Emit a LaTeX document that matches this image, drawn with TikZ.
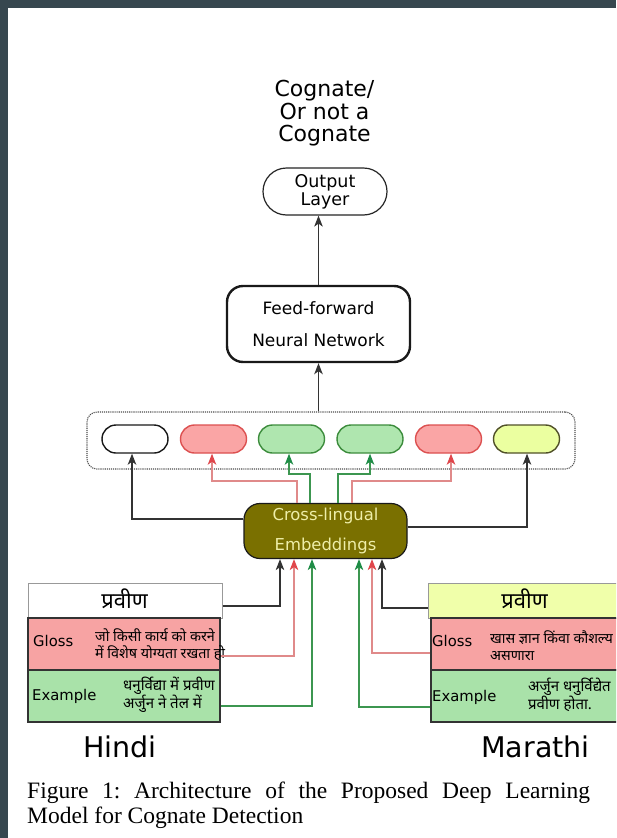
\documentclass[tikz,border=0pt]{standalone}
\usepackage{fontspec}
\setmainfont{Liberation Serif}
\setsansfont{DejaVu Sans}
\newfontfamily\devafont[Script=Devanagari]{Noto Sans}
\usetikzlibrary{arrows.meta,shapes.misc,calc}

\definecolor{framegray}{HTML}{37474F}
\definecolor{glossfill}{HTML}{F7A3A3}
\definecolor{exfill}{HTML}{A9E2A9}
\definecolor{mrtitle}{HTML}{F0FFAA}
\definecolor{cleolive}{HTML}{7A7000}
\definecolor{cletext}{HTML}{EEEEA8}
\definecolor{redline}{HTML}{E08A8A}
\definecolor{redtip}{HTML}{E0464B}
\definecolor{greenline}{HTML}{3C9650}
\definecolor{greentip}{HTML}{1E8C46}
\definecolor{redpill}{HTML}{FAA5A5}
\definecolor{redpilledge}{HTML}{DC5050}
\definecolor{greenpill}{HTML}{AFE6AF}
\definecolor{greenpilledge}{HTML}{3C8C3C}
\definecolor{yellowpill}{HTML}{EBFFA0}
\definecolor{yellowpilledge}{HTML}{505028}

\tikzset{
  pill/.style={rounded rectangle, minimum width=66pt, minimum height=28pt,
    inner sep=0pt, line width=1.4pt},
  tipk/.style={-{Stealth[length=11pt,width=8.5pt,inset=3pt]}},
  blackconn/.style={tipk, draw=black!80, line width=1.2pt},
  redconn/.style={-{Stealth[length=11pt,width=8.5pt,inset=3pt,color=redtip]},
    draw=redline, line width=1.2pt},
  greenconn/.style={-{Stealth[length=11pt,width=8.5pt,inset=3pt,color=greentip]},
    draw=greenline, line width=1.2pt},
  wordbox/.style={rectangle, inner sep=0pt, minimum width=194pt, minimum height=35pt,
    draw=black!40, line width=1pt},
  infobox/.style={rectangle, inner sep=0pt, minimum width=192pt, minimum height=52pt,
    draw=black!80, line width=1.6pt},
  fieldname/.style={anchor=west, inner sep=0pt, font=\sffamily\fontsize{14.8}{16}\selectfont},
  devtext/.style={anchor=west, inner sep=0pt, align=left,
    font=\devafont\fontsize{15}{17.5}\selectfont},
  glosstext/.style={devtext, font=\devafont\fontsize{14.3}{17}\selectfont},
  langname/.style={anchor=base, inner sep=0pt, font=\sffamily\fontsize{28.5}{30}\selectfont},
}

\begin{document}
\begin{tikzpicture}[x=1pt,y=-1pt]
\useasboundingbox (0,0) rectangle (616,838);
\clip (0,0) rectangle (616,838);
\fill[white] (0,0) rectangle (616,838);
\fill[framegray] (0,0) rectangle (7.5,838);
\fill[framegray] (0,0) rectangle (616,7.5);

% ---- output side ----
\node[inner sep=0pt, align=center, font=\sffamily\fontsize{22}{22.5}\selectfont]
  (verdict) at (324.5,113.5) {Cognate/\\Or not a\\Cognate};
\node[rounded rectangle, draw=black!85, line width=1.2pt, minimum width=124pt,
  minimum height=47pt, inner sep=0pt, align=center,
  font=\sffamily\fontsize{17.5}{18}\selectfont] (outlayer) at (325,191.5) {Output\\Layer};
\node[rectangle, rounded corners=16pt, draw=black!90, line width=2.4pt,
  minimum width=183pt, minimum height=76pt, inner sep=0pt, align=center,
  font=\sffamily\fontsize{17}{32}\selectfont] (ffnn) at (318.5,324) {Feed-forward\\Neural Network};

% ---- concatenated embedding vector ----
\node[rectangle, rounded corners=10pt, densely dotted, draw=black!70, line width=1.1pt,
  minimum width=488pt, minimum height=57pt, inner sep=0pt] (vec) at (331,440.5) {};
\node[pill, draw=black!90, fill=white] (p1) at (135,439) {};
\node[pill, draw=redpilledge, fill=redpill] (p2) at (213.5,439) {};
\node[pill, draw=greenpilledge, fill=greenpill] (p3) at (291.5,439) {};
\node[pill, draw=greenpilledge, fill=greenpill] (p4) at (370,439) {};
\node[pill, draw=redpilledge, fill=redpill] (p5) at (448.5,439) {};
\node[pill, draw=yellowpilledge, fill=yellowpill] (p6) at (526.5,439) {};

% ---- cross-lingual embeddings ----
\node[rectangle, rounded corners=16pt, draw=black!90, fill=cleolive, line width=1.2pt,
  minimum width=163pt, minimum height=55pt, inner sep=0pt, align=center,
  text=cletext, font=\sffamily\fontsize{16.4}{30}\selectfont] (cle) at (325.5,531)
  {Cross-lingual\\Embeddings};

% ---- Hindi entry ----
\node[wordbox, fill=white] (hword) at (125,600.5) {};
\node[inner sep=0pt, font=\devafont\fontsize{22}{24}\selectfont] at (124.5,599) {प्रवीण};
\node[infobox, fill=glossfill] (hgloss) at (124,644) {};
\node[fieldname] at (33,641) {Gloss};
\node[glosstext] at (95,645) {जो किसी कार्य को करने\\में विशेष योग्यता रखता हो};
\node[infobox, fill=exfill] (hex) at (124,696) {};
\node[fieldname] at (32,696) {Example};
\node[devtext] at (123,695) {धनुर्विद्या में प्रवीण\\अर्जुन ने तेल में};
\node[langname] (hlabel) at (120,757) {Hindi};

% ---- Marathi entry ----
\node[wordbox, fill=mrtitle] (mword) at (525,601) {};
\node[inner sep=0pt, font=\devafont\fontsize{22}{24}\selectfont] at (524.5,599) {प्रवीण};
\node[infobox, fill=glossfill] (mgloss) at (527,644) {};
\node[fieldname] at (432,641) {Gloss};
\node[glosstext] at (490,646) {खास ज्ञान किंवा कौशल्य\\असणारा};
\node[infobox, fill=exfill] (mex) at (527,696) {};
\node[fieldname] at (432,697) {Example};
\node[devtext] at (528,695) {अर्जुन धनुर्विद्येत\\प्रवीण होता.};
\node[langname] (mlabel) at (535.5,757) {Marathi};

% ---- caption ----
\node[anchor=north west, inner sep=0pt, text width=563pt, align=justify,
  font=\rmfamily\fontsize{23.5}{25}\selectfont\frenchspacing] (caption) at (27,782)
  {Figure 1: Architecture of the Proposed Deep Learning\linebreak Model for Cognate Detection};

% ---- connectors: word entries into the embeddings ----
\draw[blackconn] ($(hword.east)+(0,5.5)$) -| ($(cle.south)+(-45.5,0)$);
\draw[redconn] ($(hgloss.east)+(0,12)$) -| ($(cle.south)+(-31.5,0)$);
\draw[greenconn] ($(hex.east)+(0,10)$) -| ($(cle.south)+(-13.5,0)$);
\draw[greenconn] ($(mex.west)+(0,11)$) -| ($(cle.south)+(33.5,0)$);
\draw[redconn] ($(mgloss.west)+(0,9)$) -| ($(cle.south)+(46.5,0)$);
\draw[blackconn] ($(mword.west)+(0,7)$) -| ($(cle.south)+(56.5,0)$);

% ---- connectors: embeddings into the vector slots ----
\draw[blackconn] ($(cle.west)+(0,-12)$) -| ($(p1.south)+(-3,0)$);
\draw[redconn] ($(cle.north)+(-28.5,0)$) -- ++(0,-22) -| ($(p2.south)+(-1.5,0)$);
\draw[greenconn] ($(cle.north)+(-15.5,0)$) -- ++(0,-29) -| ($(p3.south)+(-2.5,0)$);
\draw[greenconn] ($(cle.north)+(12.5,0)$) -- ++(0,-29) -| ($(p4.south)+(0,0)$);
\draw[redconn] ($(cle.north)+(26.5,0)$) -- ++(0,-22) -| ($(p5.south)+(2.5,0)$);
\draw[blackconn] ($(cle.east)+(0,-4)$) -| ($(p6.south)+(0.5,0)$);

% ---- vector to network to output ----
\draw[blackconn] (vec.north -| ffnn.south) -- (ffnn.south);
\draw[blackconn] (ffnn.north) -- (ffnn.north |- outlayer.south);
\end{tikzpicture}
\end{document}
